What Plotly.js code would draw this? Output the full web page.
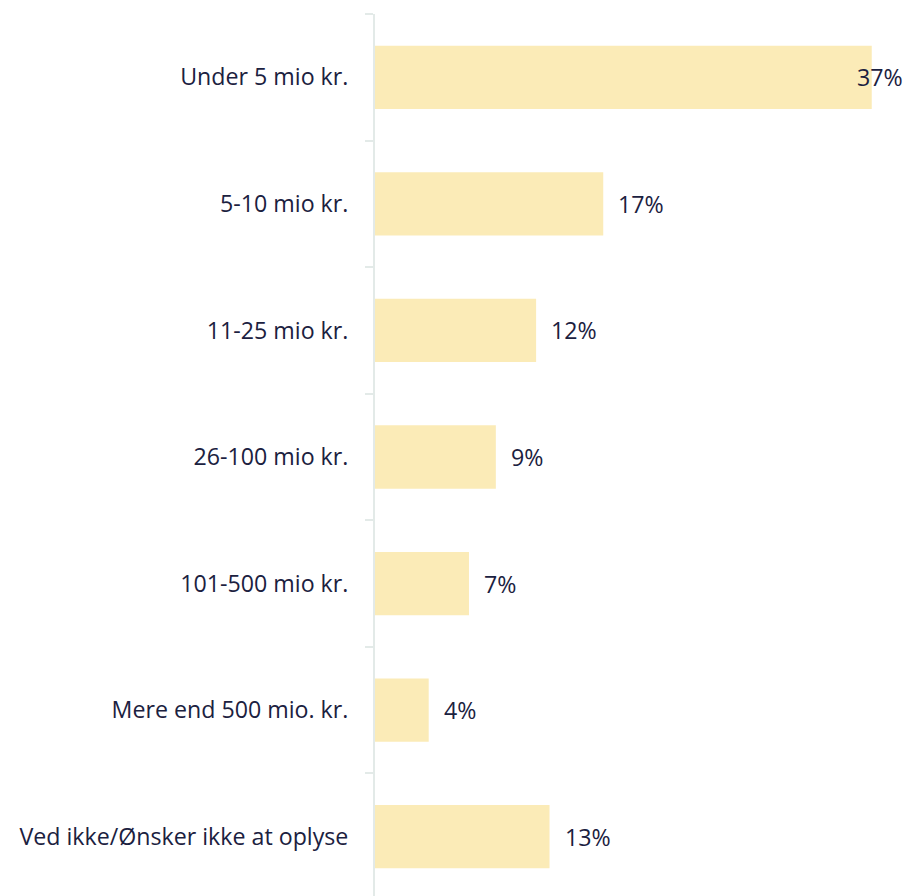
<!DOCTYPE html>
<html>
<head>
<meta charset="utf-8">
<script src="https://cdn.plot.ly/plotly-3.0.1.min.js"></script>
<style>
html,body{margin:0;padding:0;overflow:hidden;background:#fff;}
#chart{width:908px;height:900px;}
</style>
</head>
<body>
<div id="chart"></div>
<script>
const categories = ["Under 5 mio kr.", "5-10 mio kr.", "11-25 mio kr.", "26-100 mio kr.", "101-500 mio kr.", "Mere end 500 mio. kr.", "Ved ikke/Ønsker ikke at oplyse"];
const values = [37, 17, 12, 9, 7, 4, 13];
const valueLabels = ["37%", "17%", "12%", "9%", "7%", "4%", "13%"];

const textColor = "#1b2140";
const fontFam = "'Open Sans', sans-serif";
const fontSize = 23.2;
const xMax = 39.7;

const annotations = values.map((v, i) => {
  const fits = v < 35;
  return fits ? {
    x: v, y: categories[i], xref: "x", yref: "y",
    text: valueLabels[i], showarrow: false, xanchor: "left", xshift: 13,
    font: {family: fontFam, size: fontSize, color: textColor}
  } : {
    x: 1, y: categories[i], xref: "paper", yref: "y",
    text: valueLabels[i], showarrow: false, xanchor: "right", xshift: -3,
    font: {family: fontFam, size: fontSize, color: textColor}
  };
});

const data = [{
  type: "bar",
  orientation: "h",
  x: values,
  y: categories,
  marker: {color: "#fbebb7"},
  width: 0.5,
  hoverinfo: "none"
}];

const layout = {
  width: 908,
  height: 900,
  margin: {l: 375, r: 0, t: 14, b: 0, pad: 0},
  paper_bgcolor: "#fff",
  plot_bgcolor: "#fff",
  showlegend: false,
  font: {family: fontFam, size: fontSize, color: textColor},
  xaxis: {
    range: [0, xMax],
    visible: false,
    showgrid: false,
    zeroline: false
  },
  yaxis: {
    type: "category",
    autorange: "reversed",
    showline: true,
    linecolor: "#e3eae8",
    linewidth: 2,
    ticks: "outside",
    tickson: "boundaries",
    ticklen: 8,
    tickwidth: 2,
    tickcolor: "#e3eae8",
    ticklabelstandoff: 20,
    showgrid: false,
    zeroline: false,
    tickfont: {family: fontFam, size: fontSize, color: textColor}
  },
  annotations: annotations
};

Plotly.newPlot("chart", data, layout, {displayModeBar: false, staticPlot: true});
</script>
</body>
</html>
